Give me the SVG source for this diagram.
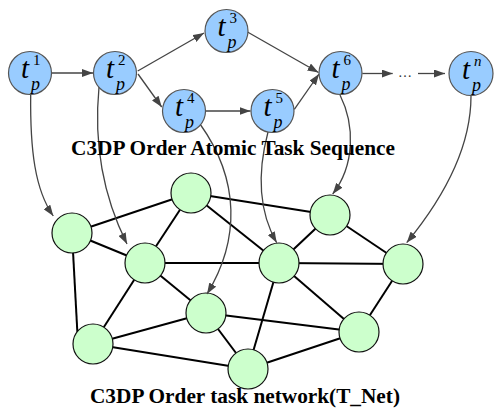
<svg xmlns="http://www.w3.org/2000/svg" width="496" height="409" viewBox="0 0 496 409">
  <style>
    .task { fill: #99ccff; stroke: #555555; stroke-width: 1.2; }
    .net { fill: #ccffcc; stroke: #111111; stroke-width: 1.2; }
    .flow { fill: none; stroke: #444444; stroke-width: 1.3; marker-end: url(#arrow); }
    .link { stroke: #000000; stroke-width: 2; }
    .t { font-family: "Liberation Serif", serif; font-style: italic; font-size: 29px; fill: #000; }
    .sup { font-family: "Liberation Serif", serif; font-size: 15px; fill: #000; }
    .sub { font-family: "Liberation Serif", serif; font-style: italic; font-size: 18px; fill: #000; }
    .dots { font-family: "Liberation Serif", serif; font-size: 14px; fill: #333; }
    .title { font-family: "Liberation Serif", serif; font-weight: bold; font-size: 21px; fill: #000; }
  </style>
  <defs>
    <marker id="arrow" markerWidth="11" markerHeight="8" refX="11" refY="4" orient="auto" markerUnits="userSpaceOnUse">
      <path d="M0,0 L11,4 L0,8 z" fill="#444444"/>
    </marker>
  </defs>

  <rect width="496" height="409" fill="#ffffff"/>

  <!-- network links -->
  <g id="links">
    <line class="link" x1="72" y1="233" x2="191" y2="193"/>
    <line class="link" x1="72" y1="233" x2="145" y2="263"/>
    <line class="link" x1="72" y1="233" x2="78" y2="344"/>
    <line class="link" x1="191" y1="193" x2="145" y2="263"/>
    <line class="link" x1="191" y1="193" x2="330" y2="215"/>
    <line class="link" x1="191" y1="193" x2="279" y2="263"/>
    <line class="link" x1="145" y1="263" x2="279" y2="263"/>
    <line class="link" x1="145" y1="263" x2="93" y2="344"/>
    <line class="link" x1="145" y1="263" x2="206" y2="313"/>
    <line class="link" x1="330" y1="215" x2="279" y2="263"/>
    <line class="link" x1="330" y1="215" x2="403" y2="264"/>
    <line class="link" x1="279" y1="263" x2="403" y2="264"/>
    <line class="link" x1="279" y1="263" x2="248" y2="369"/>
    <line class="link" x1="279" y1="263" x2="359" y2="332"/>
    <line class="link" x1="403" y1="264" x2="359" y2="332"/>
    <line class="link" x1="206" y1="313" x2="359" y2="332"/>
    <line class="link" x1="206" y1="313" x2="93" y2="344"/>
    <line class="link" x1="206" y1="313" x2="248" y2="369"/>
    <line class="link" x1="93" y1="344" x2="248" y2="369"/>
    <line class="link" x1="248" y1="369" x2="359" y2="332"/>
  </g>

  <!-- network nodes -->
  <g id="n1"><circle class="net" cx="72" cy="233" r="20"/></g>
  <g id="n2"><circle class="net" cx="191" cy="193" r="20"/></g>
  <g id="n3"><circle class="net" cx="145" cy="263" r="20"/></g>
  <g id="n4"><circle class="net" cx="330" cy="215" r="20"/></g>
  <g id="n5"><circle class="net" cx="279" cy="263" r="20"/></g>
  <g id="n6"><circle class="net" cx="403" cy="264" r="20"/></g>
  <g id="n7"><circle class="net" cx="206" cy="313" r="20"/></g>
  <g id="n8"><circle class="net" cx="93" cy="344" r="20"/></g>
  <g id="n9"><circle class="net" cx="248" cy="369" r="20"/></g>
  <g id="n10"><circle class="net" cx="359" cy="332" r="20"/></g>

  <!-- sequence arrows and mapping arrows -->
  <g id="connectors">
    <line class="flow" x1="52" y1="73" x2="93" y2="73"/>
    <line class="flow" x1="137.7" y1="71" x2="204" y2="33"/>
    <line class="flow" x1="138" y1="74" x2="161.7" y2="107"/>
    <line class="flow" x1="206" y1="111" x2="250.5" y2="111"/>
    <line class="flow" x1="247.5" y1="32" x2="318.5" y2="72.5"/>
    <line class="flow" x1="294.3" y1="109.3" x2="319" y2="74"/>
    <line class="flow" x1="362.3" y1="73.5" x2="392.7" y2="73.5"/>
    <line class="flow" x1="418" y1="73.5" x2="445" y2="73.5"/>

    <path class="flow" d="M30.7,94 C30,150 35,190 53.3,216"/>
    <path class="flow" d="M99,87 C93,150 105,200 127,244"/>
    <path class="flow" d="M200,124 C240,180 240,240 207,294"/>
    <path class="flow" d="M268,132 C258,170 258,210 276.7,242.7"/>
    <path class="flow" d="M340,95 C355,125 355,165 332.7,194"/>
    <path class="flow" d="M471,96 C471,140 450,190 406.7,242.7"/>
  </g>

  <!-- atomic task nodes -->
  <g id="tp1">
    <circle class="task" cx="30" cy="73" r="21.5"/>
    <text class="t" x="21" y="78">t</text><text class="sup" x="33" y="65">1</text><text class="sub" x="31" y="90">p</text>
  </g>
  <g id="tp2">
    <circle class="task" cx="115" cy="73" r="21.5"/>
    <text class="t" x="106" y="78">t</text><text class="sup" x="118" y="65">2</text><text class="sub" x="116" y="90">p</text>
  </g>
  <g id="tp3">
    <circle class="task" cx="226.5" cy="31" r="21.5"/>
    <text class="t" x="217.5" y="36">t</text><text class="sup" x="229.5" y="23">3</text><text class="sub" x="227.5" y="48">p</text>
  </g>
  <g id="tp4">
    <circle class="task" cx="184" cy="111" r="21.5"/>
    <text class="t" x="175" y="116">t</text><text class="sup" x="187" y="103">4</text><text class="sub" x="185" y="128">p</text>
  </g>
  <g id="tp5">
    <circle class="task" cx="272.5" cy="111" r="21.5"/>
    <text class="t" x="263.5" y="116">t</text><text class="sup" x="275.5" y="103">5</text><text class="sub" x="273.5" y="128">p</text>
  </g>
  <g id="tp6">
    <circle class="task" cx="340.5" cy="73" r="21.5"/>
    <text class="t" x="331.5" y="78">t</text><text class="sup" x="343.5" y="65">6</text><text class="sub" x="341.5" y="90">p</text>
  </g>
  <g id="ellipsis">
    <text class="dots" x="405" y="77" text-anchor="middle">…</text>
  </g>
  <g id="tpn">
    <circle class="task" cx="471" cy="73.5" r="22"/>
    <text class="t" x="462" y="78.5">t</text><text class="sup" x="474" y="65.5" font-style="italic">n</text><text class="sub" x="472" y="90.5">p</text>
  </g>

  <!-- captions -->
  <text class="title" x="71" y="155" textLength="324" lengthAdjust="spacingAndGlyphs">C3DP Order Atomic Task Sequence</text>
  <text class="title" x="90" y="403" textLength="310" lengthAdjust="spacingAndGlyphs">C3DP Order task network(T_Net)</text>
</svg>
